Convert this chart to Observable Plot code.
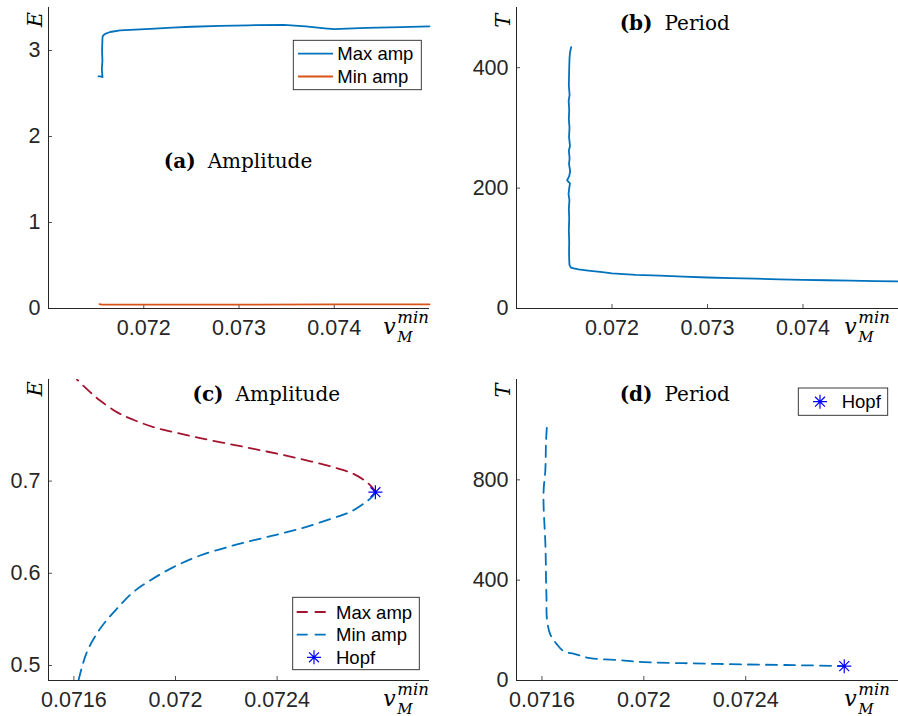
<!DOCTYPE html>
<html><head><meta charset="utf-8">
<script src="https://cdn.jsdelivr.net/npm/d3@7"></script>
<script src="https://cdn.jsdelivr.net/npm/@observablehq/plot@0.6"></script>
<style>
html,body{margin:0;padding:0;background:#fff;}
#fig{position:relative;width:898px;height:716px;overflow:hidden;background:#fff;}
#overlay{position:absolute;left:0;top:0;pointer-events:none;}
</style></head><body><div id="fig"></div>
<script>
// ---------- tick labels / domains ----------
const xTicksTop = [0.072, 0.073, 0.074];
const xTicksBottom = [0.0716, 0.072, 0.0724];
const yTicksA = [0, 1, 2, 3];
const yTicksB = [0, 200, 400];
const yTicksC = [0.5, 0.6, 0.7];
const yTicksD = [0, 400, 800];
const xDomainTop = [0.071, 0.075];
const xDomainBottom = [0.0715, 0.073];
const yDomainA = [0, 3.5];
const yDomainB = [0, 500];
const yDomainC = [0.4837, 0.8102];
const yDomainD = [0, 1200];

const seriesNames = ["Max amp", "Min amp"];
const hopfName = "Hopf";
const panelTags = ["(a)", "(b)", "(c)", "(d)"];
const panelWords = ["Amplitude", "Period", "Amplitude", "Period"];

// ---------- (a) amplitude, stable branch ----------
const aMaxX = [0.071525, 0.071548, 0.071567, 0.071560, 0.071566, 0.071562, 0.071567, 0.071574, 0.071595, 0.071647, 0.071752, 0.071857, 0.072067, 0.0723, 0.0725, 0.0728, 0.0731, 0.07347, 0.0737, 0.0739, 0.074, 0.0742, 0.07434, 0.0747, 0.075];
const aMaxE = [2.700, 2.700, 2.690, 2.780, 2.880, 3.000, 3.155, 3.174, 3.194, 3.215, 3.233, 3.241, 3.252, 3.266, 3.276, 3.286, 3.293, 3.299, 3.280, 3.258, 3.248, 3.258, 3.263, 3.272, 3.281];
const aMinX = [0.071535, 0.07156, 0.0716, 0.072, 0.073, 0.074, 0.075];
const aMinE = [0.050, 0.045, 0.046, 0.046, 0.046, 0.047, 0.047];

// ---------- (b) period, stable branch ----------
const bX = [0.071572,0.071560,0.071555,0.071552,0.071550,0.071548,0.071556,0.071546,0.071552,0.071548,0.071555,0.071550,0.071560,0.071548,0.071556,0.071550,0.071562,0.071552,0.071530,0.071560,0.071552,0.071545,0.071554,0.071548,0.071552,0.071548,0.071552,0.071550,0.071552,0.071555,0.071570,0.071600,0.071650,0.071750,0.071900,0.072000,0.072250,0.072500,0.072750,0.073000,0.073250,0.073500,0.073750,0.074000,0.074250,0.074500,0.074750,0.075000];
const bT = [434,425,415,400,385,370,355,345,330,315,300,285,270,262,250,240,228,220,213,208,200,190,180,165,150,130,110,95,80,72,68,66.5,65,63,60.5,58.5,56,54.5,52.8,51.5,50.3,49.5,48.5,47.7,46.9,46.2,45.5,44.9];

// ---------- (c) amplitude, unstable branch ----------
const cMaxX = [0.072787, 0.072779, 0.072753, 0.072700, 0.072621, 0.072490, 0.072359, 0.072228, 0.072097, 0.071992, 0.071913, 0.071834, 0.071769, 0.071703, 0.071664, 0.071612];
const cMaxE = [0.688, 0.6916, 0.6989, 0.7079, 0.7152, 0.7242, 0.7321, 0.7394, 0.7466, 0.7531, 0.7586, 0.7665, 0.7748, 0.7874, 0.7965, 0.8102];
const cMinX = [0.072787, 0.072779, 0.072753, 0.072687, 0.072621, 0.072490, 0.072359, 0.072228, 0.072097, 0.071992, 0.071900, 0.071834, 0.071769, 0.071703, 0.071651, 0.071618];
const cMinE = [0.688, 0.6844, 0.6779, 0.6664, 0.6599, 0.6483, 0.6393, 0.6302, 0.6193, 0.6067, 0.5922, 0.5796, 0.5615, 0.5398, 0.5145, 0.4837];

// ---------- (d) period, unstable branch ----------
const dX = [0.071619, 0.071616, 0.071613, 0.071607, 0.071606, 0.071609, 0.071613, 0.071615, 0.071616, 0.071618, 0.071619, 0.071632, 0.071658, 0.071684, 0.071730, 0.071789, 0.071907, 0.071959, 0.072000, 0.072155, 0.072400, 0.072600, 0.072743, 0.072787];
const dT = [1007, 954, 834, 767, 715, 636, 556, 477, 397, 318, 251, 185, 145, 118, 105, 89, 81, 76, 73, 69, 64, 61, 58.5, 57.3];

// ---------- Hopf point ----------
const hopfX = [0.072787];
const hopfE = [0.688];
const hopfT = [57.3];

// ---------- styling ----------
const AX = "#262626";
const BLUE = "#0072BD", ORANGE = "#D95319", RED = "#A2142F", HOPF = "#0000FF";
const SANS = '"Liberation Sans", Arial, Helvetica, sans-serif';
const SERIF = '"DejaVu Serif", "Liberation Serif", serif';
const DASH = "11,7";
const TICKFONT = 21.5;

const zip = (xs, ys) => xs.map((x, i) => ({x, y: ys[i]}));

// MATLAB-like '*' marker (+ and x superimposed)
const asterisk = {
  draw(ctx, size) {
    const r = Math.sqrt(size / Math.PI);
    const d = r * Math.SQRT1_2;
    ctx.moveTo(-r, 0); ctx.lineTo(r, 0);
    ctx.moveTo(0, -r); ctx.lineTo(0, r);
    ctx.moveTo(-d, -d); ctx.lineTo(d, d);
    ctx.moveTo(-d, d); ctx.lineTo(d, -d);
  }
};

const fig = document.getElementById("fig");

function makePanel(o) {
  const innerW = o.width - o.ml - o.mr, innerH = o.height - o.mt - o.mb;
  const svg = Plot.plot({
    width: o.width, height: o.height,
    marginLeft: o.ml, marginRight: o.mr, marginTop: o.mt, marginBottom: o.mb,
    x: {domain: o.xDomain},
    y: {domain: o.yDomain},
    style: {fontFamily: SANS, fontSize: TICKFONT + "px", color: AX, background: "transparent", overflow: "visible"},
    marks: [
      Plot.ruleX(o.xTicks, {x: d => d, insetTop: innerH - 4, stroke: AX, strokeWidth: 0.8}),
      Plot.ruleY(o.yTicks, {y: d => d, insetRight: innerW - 4, stroke: AX, strokeWidth: 0.8}),
      Plot.axisX(o.xTicks, {tickSize: 0, tickPadding: 11, tickFormat: d => String(d), label: null, fontSize: TICKFONT}),
      Plot.axisY(o.yTicks, {tickSize: 0, tickPadding: 8, tickFormat: d => String(d), label: null, fontSize: TICKFONT}),
      ...o.marks,
      Plot.ruleX([o.xDomain[0]], {x: d => d, stroke: AX, strokeWidth: 1}),
      Plot.ruleY([o.yDomain[0]], {y: d => d, stroke: AX, strokeWidth: 1})
    ]
  });
  svg.style.position = "absolute";
  svg.style.left = o.left + "px";
  svg.style.top = o.top + "px";
  fig.appendChild(svg);
}

// (a)
makePanel({
  left: 0, top: 0, width: 449, height: 358, ml: 48, mr: 20, mt: 7, mb: 50,
  xDomain: xDomainTop, yDomain: yDomainA, xTicks: xTicksTop, yTicks: yTicksA,
  marks: [
    Plot.line(zip(aMinX, aMinE), {x: "x", y: "y", stroke: ORANGE, strokeWidth: 1.8}),
    Plot.line(zip(aMaxX, aMaxE), {x: "x", y: "y", stroke: BLUE, strokeWidth: 1.8})
  ]
});
// (b)
makePanel({
  left: 449, top: 0, width: 449, height: 358, ml: 67, mr: 0, mt: 7, mb: 50,
  xDomain: xDomainTop, yDomain: yDomainB, xTicks: xTicksTop, yTicks: yTicksB,
  marks: [
    Plot.line(zip(bX, bT), {x: "x", y: "y", stroke: BLUE, strokeWidth: 1.8})
  ]
});
// (c)
makePanel({
  left: 0, top: 358, width: 449, height: 358, ml: 48, mr: 20, mt: 21, mb: 36,
  xDomain: xDomainBottom, yDomain: yDomainC, xTicks: xTicksBottom, yTicks: yTicksC,
  marks: [
    Plot.line(zip(cMaxX, cMaxE), {x: "x", y: "y", stroke: RED, strokeWidth: 1.8, strokeDasharray: DASH, curve: "catmull-rom", clip: true}),
    Plot.line(zip(cMinX, cMinE), {x: "x", y: "y", stroke: BLUE, strokeWidth: 1.8, strokeDasharray: DASH, curve: "catmull-rom", clip: true}),
    Plot.dot(zip(hopfX, hopfE), {x: "x", y: "y", symbol: asterisk, r: 7, stroke: HOPF, strokeWidth: 1.2, fill: "none"})
  ]
});
// (d)
makePanel({
  left: 449, top: 358, width: 449, height: 358, ml: 67, mr: 0, mt: 21, mb: 36,
  xDomain: xDomainBottom, yDomain: yDomainD, xTicks: xTicksBottom, yTicks: yTicksD,
  marks: [
    Plot.line(zip(dX, dT), {x: "x", y: "y", stroke: BLUE, strokeWidth: 1.8, strokeDasharray: DASH, curve: "catmull-rom"}),
    Plot.dot(zip(hopfX, hopfT), {x: "x", y: "y", symbol: asterisk, r: 7, stroke: HOPF, strokeWidth: 1.2, fill: "none"})
  ]
});

// ---------- overlay: titles, axis labels, legends ----------
const ov = d3.select(fig).append("svg").attr("id", "overlay").attr("width", 898).attr("height", 716);

function title(cx, baseline, tag, word) {
  const t = ov.append("text").attr("x", cx).attr("y", baseline).attr("text-anchor", "middle")
    .attr("font-family", SERIF).attr("font-size", 20).attr("fill", "#000");
  t.append("tspan").attr("font-weight", "bold").text(tag);
  t.append("tspan").attr("dx", 12).text(word);
}
title(238, 168, panelTags[0], panelWords[0]);
title(674.7, 29.5, panelTags[1], panelWords[1]);
title(266.3, 401, panelTags[2], panelWords[2]);
title(674.7, 400.7, panelTags[3], panelWords[3]);

function ylab(xBase, cy, ch) {
  ov.append("text").attr("transform", `translate(${xBase},${cy}) rotate(-90)`)
    .attr("text-anchor", "middle").attr("font-family", SERIF).attr("font-style", "italic")
    .attr("font-size", 21).attr("fill", "#000").text(ch);
}
ylab(41.5, 19.7, "E");
ylab(509.5, 20.8, "T");
ylab(41.5, 388.8, "E");
ylab(509.5, 390.5, "T");

function xlab(x0, baseline) {
  const g = ov.append("g").attr("font-family", SERIF).attr("font-style", "italic").attr("fill", "#000");
  g.append("text").attr("x", x0).attr("y", baseline).attr("font-size", 22).text("v");
  g.append("text").attr("x", x0 + 14).attr("y", baseline - 11).attr("font-size", 16.5).text("min");
  g.append("text").attr("x", x0 + 14).attr("y", baseline + 8).attr("font-size", 15).text("M");
}
xlab(383.3, 334);
xlab(844.3, 334);
xlab(383.3, 705.5);
xlab(844.3, 705.5);

const starPath = d3.symbol().type(asterisk).size(Math.PI * 49)();

function legend(box, rows) {
  ov.append("rect").attr("x", box.x).attr("y", box.y).attr("width", box.w).attr("height", box.h)
    .attr("fill", "#fff").attr("stroke", AX).attr("stroke-width", 0.9);
  for (const r of rows) {
    if (r.kind === "line") {
      ov.append("line").attr("x1", box.x + r.x1).attr("x2", box.x + r.x2).attr("y1", r.y).attr("y2", r.y)
        .attr("stroke", r.color).attr("stroke-width", 1.8).attr("stroke-dasharray", r.dash || null);
    } else {
      ov.append("path").attr("d", starPath).attr("transform", `translate(${box.x + r.sx},${r.y})`)
        .attr("stroke", HOPF).attr("stroke-width", 1.2).attr("fill", "none");
    }
    ov.append("text").attr("x", box.x + r.tx).attr("y", r.y + 6.5).attr("font-family", SANS)
      .attr("font-size", 18.5).attr("fill", "#000").text(r.label);
  }
}
legend({x: 293.3, y: 40.3, w: 128, h: 49.4}, [
  {kind: "line", x1: 4.7, x2: 39.7, y: 53.7, color: BLUE, tx: 44, label: seriesNames[0]},
  {kind: "line", x1: 4.7, x2: 39.7, y: 76.5, color: ORANGE, tx: 44, label: seriesNames[1]}
]);
legend({x: 292.7, y: 597.3, w: 126.6, h: 72.4}, [
  {kind: "line", x1: 4, x2: 35.6, y: 612, color: RED, dash: DASH, tx: 43.3, label: seriesNames[0]},
  {kind: "line", x1: 4, x2: 35.6, y: 634.7, color: BLUE, dash: DASH, tx: 43.3, label: seriesNames[1]},
  {kind: "star", sx: 21.3, y: 657.3, tx: 43.3, label: hopfName}
]);
legend({x: 798.3, y: 388, w: 89.4, h: 27.3}, [
  {kind: "star", sx: 21.7, y: 401.7, tx: 43.4, label: hopfName}
]);
</script>
</body></html>
